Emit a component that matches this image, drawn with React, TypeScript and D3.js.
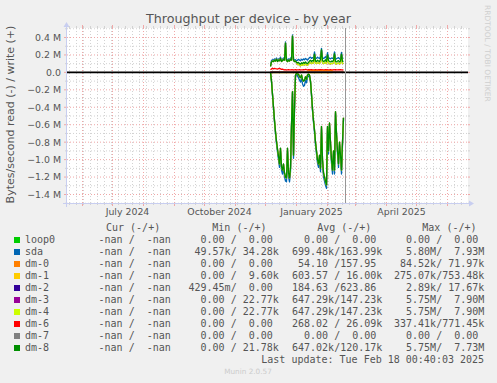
import React from 'react';
import * as d3 from 'd3';

const W = 497;
const H = 383;

// ---- time axis ----
const RANGE_START = '2024-05-16T12:00:00Z';
const RANGE_DAYS = 400;
const LAST_UPDATE = '2025-02-18T00:40:03Z';
const FIRST_DAY = '2024-12-06T00:00:00Z';

// ---- y ticks (bytes/s) ----
const yMajorTicks = [-1.4e6, -1.2e6, -1.0e6, -0.8e6, -0.6e6, -0.4e6, -0.2e6, 0, 0.2e6, 0.4e6];
const yMinorTicks = [-1.5e6, -1.3e6, -1.1e6, -0.9e6, -0.7e6, -0.5e6, -0.3e6, -0.1e6, 0.1e6, 0.3e6, 0.5e6];

// ---- series ----
const names = ['loop0', 'sda', 'dm-0', 'dm-1', 'dm-2', 'dm-3', 'dm-4', 'dm-6', 'dm-7', 'dm-8'];
const colors = ['#00CC00', '#0066B3', '#FF8000', '#FFCC00', '#330099', '#990099', '#CCFF00', '#FF0000', '#808080', '#008F00'];

// daily values in kB/s, from 2024-12-06 to 2025-02-17
const zeroRead = [0,0,0,0,0,0,0,0,0,0, 0,0,0,0,0,0,0,0,0,0, 0,0,0,0,0,0,0,0,0,0, 0,0,0,0,0,0,0,0,0,0, 0,0,0,0,0,0,0,0,0,0, 0,0,0,0,0,0,0,0,0,0, 0,0,0,0,0,0,0,0,0,0, 0,0,0,0];
const zeroWrite = [0,0,0,0,0,0,0,0,0,0, 0,0,0,0,0,0,0,0,0,0, 0,0,0,0,0,0,0,0,0,0, 0,0,0,0,0,0,0,0,0,0, 0,0,0,0,0,0,0,0,0,0, 0,0,0,0,0,0,0,0,0,0, 0,0,0,0,0,0,0,0,0,0, 0,0,0,0];

const sdaRead = [0,105,260,415,570,705,820,915,1000,1090, 900,1120,1165,1090,1195,1245,1255,900,1195,1255, 1140,620,230,985,420,40,20,40,60,90, 110,70,130,160,150,90,120,60,40,45, 110,265,440,575,690,835,935,1040,1090,985, 1140,645,1040,1195,1245,1295,1330,645,935,600, 830,1040,1165,935,1165,470,725,935,1090,830, 985,1165,830,540];
const sdaWrite = [80,135,145,140,155,145,165,140,155,150, 175,140,150,165,155,350,150,140,155,145, 165,155,430,155,140,145,130,140,150,140, 135,150,140,155,145,160,150,140,155,170, 175,160,170,165,235,165,160,175,165,160, 185,275,170,160,165,180,160,225,170,160, 155,165,160,170,235,160,155,165,170,155, 165,230,160,165];

const dm0Read = [0,0,0,0,0,0,0,0,0,0, 0,0,0,0,0,0,0,0,0,0, 0,0,0,0,0,0,0,0,0,0, 0,0,0,0,0,0,0,0,0,0, 0,0,0,0,0,0,0,0,0,0, 0,0,0,0,0,0,0,0,0,0, 0,0,0,0,0,0,0,0,0,0, 0,0,0,0];
const dm0Write = [1,1,0,1,0,1,0,0,1,0, 0,1,0,0,1,0,0,1,0,0, 1,0,0,1,0,0,1,0,0,1, 0,0,1,0,0,1,0,0,1,0, 0,1,0,0,1,0,0,1,0,0, 1,0,0,1,0,0,1,0,0,1, 0,0,1,0,0,1,0,0,1,0, 0,1,0,0];

const dm1Read = [1,1,1,2,1,1,1,1,2,1, 1,1,1,1,2,1,1,1,1,1, 1,1,1,1,1,0,0,0,0,0, 0,0,0,0,0,0,0,0,1,1, 1,1,1,1,1,1,1,1,1,1, 1,1,1,1,1,1,1,1,1,1, 1,1,1,0,0,0,0,0,0,0, 0,0,0,0];
const dm1Write = [2,3,2,3,2,3,2,3,2,3, 2,3,2,3,2,3,2,3,2,3, 2,3,2,3,2,3,2,3,2,3, 4,5,6,5,8,10,12,15,18,20, 18,20,22,18,20,22,18,20,18,20, 22,20,18,20,22,18,20,18,20,22, 18,20,18,5,4,3,4,3,4,3, 4,3,4,3];

const dm2Read = [0,0,0,0,0,0,0,0,0,0, 0,0,0,0,0,0,0,0,0,0, 0,0,0,0,0,0,0,0,0,0, 0,0,0,0,0,0,0,0,0,0, 0,0,0,0,0,0,0,0,0,0, 0,0,0,0,0,0,0,0,0,0, 0,0,0,0,0,0,0,0,0,0, 0,0,0,0];
const dm2Write = [1,1,1,1,1,1,1,1,1,1, 1,1,1,1,1,1,1,1,1,1, 1,1,1,1,1,1,1,1,1,1, 1,1,1,1,1,1,1,1,1,1, 1,1,1,1,1,1,1,1,1,1, 1,1,1,1,1,1,1,1,1,1, 1,1,1,1,1,1,1,1,1,1, 1,1,1,1];

const dm34Read = [0,100,252,402,551,681,792,882,961,1052, 871,1082,1121,1052,1151,1202,1211,872,1151,1212, 1101,602,221,951,401,30,10,20,20,50, 60,30,80,100,90,50,80,30,20,30, 100,251,421,551,661,801,901,1001,1051,951, 1101,621,1001,1151,1201,1251,1291,621,901,581, 801,1001,1121,901,1121,451,701,901,1051,801, 951,1121,801,521];
const dm34Write = [70,120,130,125,140,130,150,125,140,135, 160,125,135,150,140,335,135,125,140,130, 150,140,415,140,125,130,115,90,95,80, 75,90,80,95,85,95,85,80,95,105, 115,100,110,105,200,105,100,115,105,100, 125,250,110,100,105,120,100,190,110,100, 95,105,100,110,205,100,95,105,110,95, 105,200,100,105];

const dm6Read = [0,0,0,0,0,0,0,0,0,0, 0,0,0,0,0,0,0,0,0,0, 0,0,0,0,0,0,0,0,0,0, 0,0,0,0,0,0,0,0,0,0, 0,0,0,0,0,0,0,0,0,0, 0,0,0,0,0,0,0,0,0,0, 0,0,0,0,0,0,0,0,0,0, 0,0,0,0];
const dm6Write = [30,40,45,40,45,42,40,38,42,45, 40,35,38,32,30,30,28,30,32,30, 28,30,30,28,30,32,30,28,30,32, 30,28,30,32,30,35,32,30,32,30, 30,32,30,28,30,32,30,28,30,30, 32,30,30,28,30,32,30,30,28,30, 32,30,28,30,30,32,30,28,30,30, 32,30,28,30];

const dm8Read = [0,100,250,400,550,680,790,880,960,1050, 870,1080,1120,1050,1150,1200,1210,870,1150,1210, 1100,600,220,950,400,30,10,20,20,50, 60,30,80,100,90,50,80,30,20,30, 100,250,420,550,660,800,900,1000,1050,950, 1100,620,1000,1150,1200,1250,1290,620,900,580, 800,1000,1120,900,1120,450,700,900,1050,800, 950,1120,800,520];
const dm8Write = [70,120,130,125,140,130,150,125,140,135, 160,125,135,150,140,335,135,125,140,130, 150,140,415,140,125,130,115,110,115,100, 95,110,100,115,105,120,105,100,115,130, 140,125,135,130,210,130,125,140,130,125, 150,260,135,125,130,145,125,200,135,125, 120,130,125,135,215,125,120,130,135,120, 130,210,125,130];

const readSeries = [zeroRead, sdaRead, dm0Read, dm1Read, dm2Read, dm34Read, dm34Read, dm6Read, zeroRead, dm8Read];
const writeSeries = [zeroWrite, sdaWrite, dm0Write, dm1Write, dm2Write, dm34Write, dm34Write, dm6Write, zeroWrite, dm8Write];

// ---- legend text ----
const legendHeaders = ['Cur (-/+)', 'Min (-/+)', 'Avg (-/+)', 'Max (-/+)'];
const curCol = ['  -nan /  -nan ', '  -nan /  -nan ', '  -nan /  -nan ', '  -nan /  -nan ', '  -nan /  -nan ', '  -nan /  -nan ', '  -nan /  -nan ', '  -nan /  -nan ', '  -nan /  -nan ', '  -nan /  -nan '];
const minCol = ['  0.00 /  0.00 ', ' 49.57k/ 34.28k', '  0.00 /  0.00 ', '  0.00 /  9.60k', '429.45m/  0.00 ', '  0.00 / 22.77k', '  0.00 / 22.77k', '  0.00 /  0.00 ', '  0.00 /  0.00 ', '  0.00 / 21.78k'];
const avgCol = ['  0.00 /  0.00 ', '699.48k/163.99k', ' 54.10 /157.95 ', '603.57 / 16.00k', '184.63 /623.86 ', '647.29k/147.23k', '647.29k/147.23k', '268.02 / 26.09k', '  0.00 /  0.00 ', '647.02k/120.17k'];
const maxCol = ['  0.00 /  0.00 ', '  5.80M/  7.93M', ' 84.52k/ 71.97k', '275.07k/753.48k', '  2.89k/ 17.67k', '  5.75M/  7.90M', '  5.75M/  7.90M', '337.41k/771.45k', '  0.00 /  0.00 ', '  5.75M/  7.73M'];

const TITLE = 'Throughput per device - by year';
const Y_TITLE = 'Bytes/second read (-) / write (+)';
const LAST_UPDATE_TEXT = 'Last update: Tue Feb 18 00:40:03 2025';
const WATERMARK = 'RRDTOOL / TOBI OETIKER';
const FOOTER = 'Munin 2.0.57';

const SANS = "'DejaVu Sans', sans-serif";
const MONO = "'DejaVu Sans Mono', monospace";
const TXT = '#555555';

const nb = (s: string) => s.replace(/ /g, '\u00A0');

export default function App() {
  const DAY = 864e5;
  const start = new Date(RANGE_START);
  const end = new Date(start.getTime() + RANGE_DAYS * DAY);
  const left = 67, right = 467, top = 28, bottom = 203;

  const x = d3.scaleUtc().domain([start, end]).range([left, right]);
  const y = d3.scaleLinear().domain([-1.4e6, 0.4e6]).range([194.5, 37.5]);

  const first = new Date(FIRST_DAY);
  const dates = dm8Read.map((_, i) => d3.utcDay.offset(first, i));

  const line = d3.line<number>()
    .x((_, i) => x(dates[i]))
    .y((d) => y(d));

  const weeks = d3.utcSunday.range(start, end);
  const months = d3.utcMonth.range(start, end);
  const quarters = d3.utcMonth.every(3)!.range(d3.utcMonth.offset(start, -3), end)
    .map((d) => ({ d, cx: x(d3.utcDay.offset(d, 15)) }))
    .filter((q) => q.cx > left && q.cx < right);
  const fmtMonth = d3.utcFormat('%B %Y');
  const fmtY = (v: number) => (v === 0 ? '0.0' : `${d3.format('.1f')(v / 1e6)} M`);

  const nowX = Math.round(x(new Date(LAST_UPDATE))) + 0.5;
  const zeroY = y(0);

  const rowBase = 243;
  const rowStep = 12;
  const px = (d: Date) => Math.floor(x(d)) + 0.5;

  return (
    <svg width={W} height={H} style={{ position: 'absolute', left: 0, top: 0, display: 'block' }}>
      <rect x={0} y={0} width={W} height={H} fill="#F0F0F0" />
      <rect x={left} y={top} width={right - left + 1} height={bottom - top} fill="#FFFFFF" />

      {/* minor grid */}
      <g stroke="#D2D2D2" strokeWidth={1}>
        {yMinorTicks.map((v) => (
          <g key={'ym' + v}>
            <line x1={left} x2={right + 1} y1={y(v)} y2={y(v)} strokeDasharray="1,2" />
            <line x1={left - 2} x2={left} y1={y(v)} y2={y(v)} />
            <line x1={right + 1} x2={right + 3} y1={y(v)} y2={y(v)} />
          </g>
        ))}
        {weeks.map((d) => (
          <g key={'wk' + d.getTime()}>
            <line x1={px(d)} x2={px(d)} y1={top} y2={bottom} strokeDasharray="1,2" />
            <line x1={px(d)} x2={px(d)} y1={bottom} y2={bottom + 2} />
            <line x1={px(d)} x2={px(d)} y1={top - 2} y2={top} />
          </g>
        ))}
      </g>
      {/* major grid */}
      <g stroke="#F0A8A8" strokeWidth={1}>
        {yMajorTicks.map((v) => (
          <g key={'yM' + v}>
            <line x1={left} x2={right + 1} y1={y(v)} y2={y(v)} strokeDasharray="1,2" />
            <line x1={left - 3} x2={left} y1={y(v)} y2={y(v)} />
            <line x1={right + 1} x2={right + 3} y1={y(v)} y2={y(v)} />
          </g>
        ))}
        {months.map((d) => (
          <g key={'mo' + d.getTime()}>
            <line x1={px(d)} x2={px(d)} y1={top} y2={bottom} strokeDasharray="1,2" />
            <line x1={px(d)} x2={px(d)} y1={bottom} y2={bottom + 3} />
            <line x1={px(d)} x2={px(d)} y1={top - 3} y2={top} />
          </g>
        ))}
      </g>

      {/* axes */}
      <g stroke="#C8CEF0" fill="#C8CEF0">
        <line x1={left - 4} x2={right + 3} y1={bottom + 0.5} y2={bottom + 0.5} />
        <line x1={left - 0.5} x2={left - 0.5} y1={bottom + 4} y2={top - 2} />
        <polygon points={`${right + 2},${bottom - 2.5} ${right + 7},${bottom + 0.5} ${right + 2},${bottom + 3.5}`} stroke="none" />
        <polygon points={`${left - 3.5},${top - 1} ${left - 0.5},${top - 6} ${left + 2.5},${top - 1}`} stroke="none" />
      </g>

      {/* y labels */}
      <g fontFamily={SANS} fontSize={9.4} fill={TXT} textAnchor="end">
        {yMajorTicks.map((v) => (
          <text key={'yl' + v} x={61} y={y(v) + 3.4}>{fmtY(v)}</text>
        ))}
      </g>
      {/* x labels */}
      <g fontFamily={SANS} fontSize={9.4} fill={TXT} textAnchor="middle">
        {quarters.map((q) => (
          <text key={'xl' + q.d.getTime()} x={q.cx} y={215}>{fmtMonth(q.d)}</text>
        ))}
      </g>

      {/* data lines */}
      <g fill="none" strokeWidth={1.3} strokeLinejoin="round">
        {names.map((n, k) => (
          <g key={'s' + n} stroke={colors[k]}>
            <path d={line(readSeries[k].map((v) => -v * 1e3)) || ''} />
            <path d={line(writeSeries[k].map((v) => v * 1e3)) || ''} />
          </g>
        ))}
      </g>

      {/* zero rule and now rule */}
      <line x1={left} x2={right + 1} y1={zeroY} y2={zeroY} stroke="#000000" strokeWidth={1.6} />
      <line x1={nowX} x2={nowX} y1={top} y2={bottom} stroke="#969696" strokeWidth={1} />

      {/* titles */}
      <text x={W / 2} y={23} textAnchor="middle" fontFamily={SANS} fontSize={12.7} fill={TXT}>{TITLE}</text>
      <text transform={`translate(13.5,${114.5}) rotate(-90)`} textAnchor="middle" fontFamily={SANS} fontSize={11} fill={TXT}>{Y_TITLE}</text>
      <text transform="translate(484.5,5) rotate(90)" fontFamily={SANS} fontSize={7.5} fill="#CFCFCF">{WATERMARK}</text>

      {/* legend */}
      <g fontFamily={MONO} fontSize={10} fill={TXT}>
        <text x={106} y={rowBase - rowStep}>{nb(legendHeaders[0])}</text>
        <text x={212.3} y={rowBase - rowStep}>{nb(legendHeaders[1])}</text>
        <text x={317.2} y={rowBase - rowStep}>{nb(legendHeaders[2])}</text>
        <text x={422.3} y={rowBase - rowStep}>{nb(legendHeaders[3])}</text>
        {names.map((n, k) => {
          const b = rowBase + k * rowStep;
          return (
            <g key={'lg' + n}>
              <rect x={14} y={b - 6} width={6} height={6} fill={colors[k]} />
              <text x={25} y={b}>{n}</text>
              <text x={86.5} y={b}>{nb(curCol[k])}</text>
              <text x={188.5} y={b}>{nb(minCol[k])}</text>
              <text x={292} y={b}>{nb(avgCol[k])}</text>
              <text x={394} y={b}>{nb(maxCol[k])}</text>
            </g>
          );
        })}
        <text x={261.3} y={rowBase + names.length * rowStep}>{nb(LAST_UPDATE_TEXT)}</text>
      </g>
      <text x={248} y={374.3} textAnchor="middle" fontFamily={SANS} fontSize={7.3} fill="#CCCCCC">{FOOTER}</text>
    </svg>
  );
}
